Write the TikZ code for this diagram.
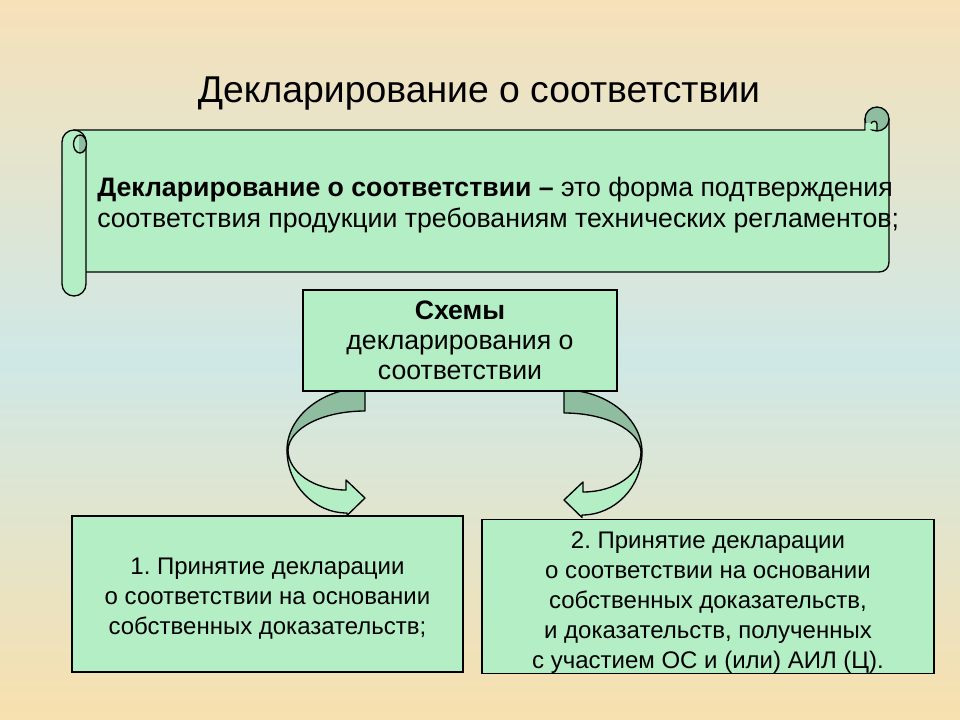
\documentclass[tikz,border=0pt]{standalone}
\usepackage{fontspec}
\setmainfont{Liberation Sans}
\frenchspacing
\definecolor{bgtop}{HTML}{F6E1B9}
\definecolor{bgmid}{HTML}{CFE8E6}
\definecolor{bgbot}{HTML}{F8E0AE}
\definecolor{paleGreen}{HTML}{B3EEC5}
\definecolor{shadeGreen}{HTML}{8EBE9F}

\begin{document}
\begin{tikzpicture}[x=0.75pt, y=-0.75pt,
  box/.style={draw, fill=paleGreen, line width=1pt, inner sep=0pt, align=center,
    font=\fontsize{18}{22.5}\selectfont},
  edge/.style={draw, line width=1pt, line join=round}
]
% background
\shade[top color=bgtop, bottom color=bgbot, middle color=bgmid] (0,0) rectangle (960,720);
\useasboundingbox (0,0) rectangle (960,720);

\node[font=\fontsize{28}{34}\selectfont, anchor=base] (title) at (479,103) {Декларирование о соответствии};

% scroll banner
\path[edge, fill=paleGreen] (74,130) -- (865,130) -- (865,119) -- (889,119) -- (889,262)
  .. controls (889,268) and (885,272) .. (879,272) -- (74,272) -- cycle;
\path[edge, fill=shadeGreen] (877,119) circle (12);
\fill[paleGreen] (865.6,123) -- (865.6,129.4) -- (876.4,129.4) -- (876.4,124)
  .. controls (876.4,121) and (872,121) .. (871,123) -- cycle;
\draw[line width=1pt] (877,130) -- (877,124) .. controls (877,120.5) and (872,120.5) .. (871,123.5);
\path[edge, fill=paleGreen, rounded corners=9pt] (62,130) rectangle (86,296);
\fill[shadeGreen] (79,135.5) .. controls (84,135.5) and (86,139.5) .. (86,144)
  .. controls (86,149) and (84,153) .. (79,153) -- cycle;
\draw[line width=1pt] (80,144) ellipse [x radius=6.5, y radius=9];

\node[anchor=base west, align=left, inner sep=0pt, font=\fontsize{20}{23.25}\selectfont] (defn) at (97,228)
  {\textbf{Декларирование о соответствии –} это форма подтверждения\\
   соответствия продукции требованиям технических регламентов;};

% curved arrows
\foreach \sx/\sy/\mir in {0/0/1, 929/2/-1}{
  \begin{scope}[shift={(\sx,\sy)}, xscale=\mir]
    \path[edge, fill=shadeGreen] (365,388) -- (365,411) .. controls (322.5,411) and (289,428.5) .. (288,450)
      -- (287,450) .. controls (287,417) and (321.9,388) .. (365,388) -- cycle;
    \path[edge, fill=paleGreen] (287,450) .. controls (287,484.8) and (313.9,513) .. (347,513)
      -- (347,515.5) -- (365,498) -- (346,480) -- (346,490)
      .. controls (314,490) and (288,472) .. (288,450) -- cycle;
  \end{scope}
}

\node[box, font=\fontsize{20}{22.5}\selectfont, minimum width=235.5pt, minimum height=75.75pt] (schemes) at (460,340.5)
  {\textbf{Схемы}\\декларирования о\\соответствии};
\node[box, minimum width=293.25pt, minimum height=117pt] (own) at (267.5,594)
  {\rule{0pt}{19pt}1. Принятие декларации\\о соответствии на основании\\собственных доказательств;};
\node[box, minimum width=339pt, minimum height=114.75pt] (joint) at (708,596.5)
  {\rule{0pt}{22pt}2. Принятие декларации\\о соответствии на основании\\собственных доказательств,\\и доказательств, полученных\\с участием ОС и (или) АИЛ (Ц).};
\end{tikzpicture}
\end{document}
